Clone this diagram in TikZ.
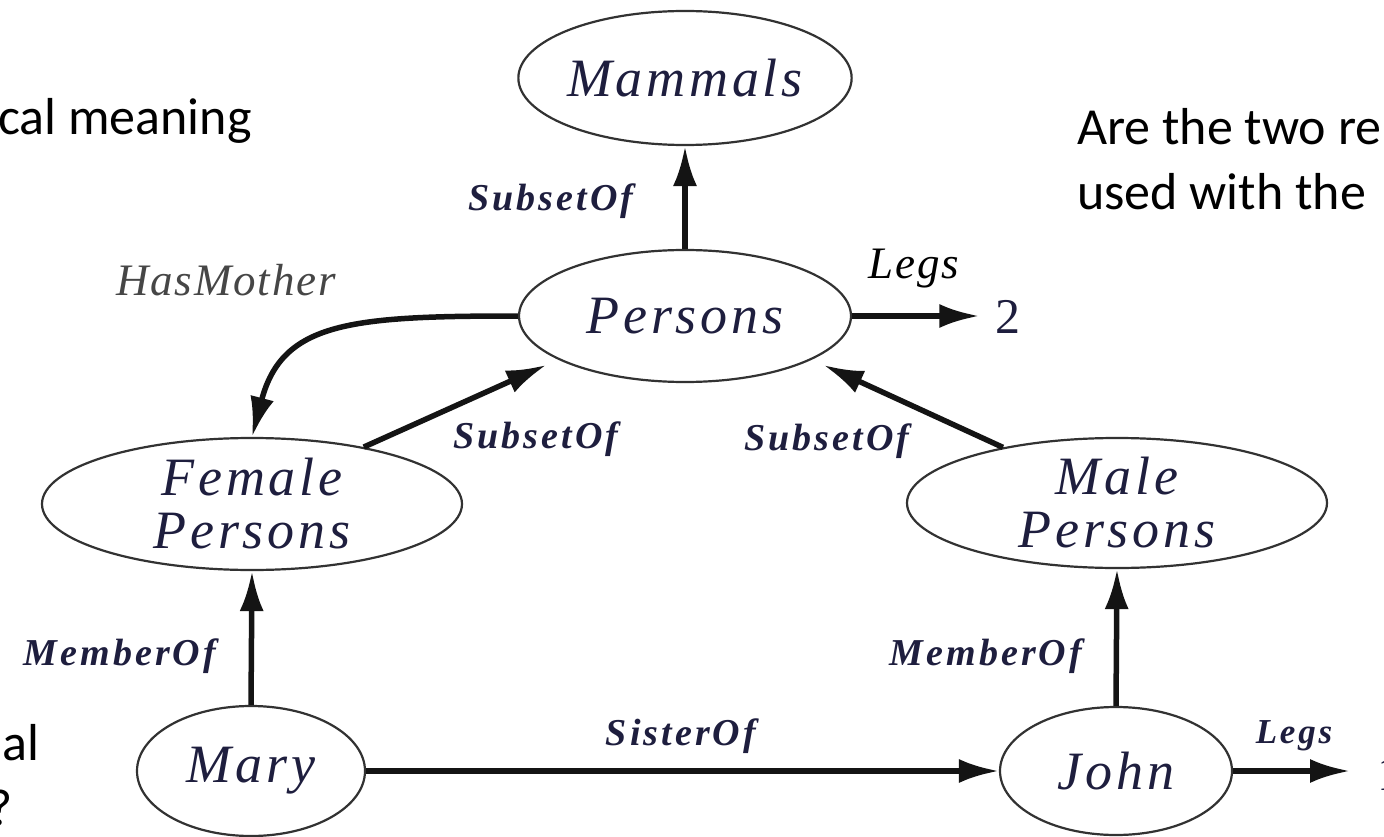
\documentclass[tikz,border=0pt]{standalone}
\usepackage{fontspec}
\setmainfont{Carlito}
\newfontfamily\conceptfont{Liberation Serif}[LetterSpace=7]
\newfontfamily\relfont{Liberation Serif}[LetterSpace=8]
\newfontfamily\notefont{Liberation Serif}[LetterSpace=4]
\usetikzlibrary{shapes.geometric,arrows.meta}
\definecolor{ink}{RGB}{30,30,62}
\definecolor{rim}{RGB}{50,50,50}
\definecolor{hint}{RGB}{70,70,70}

\begin{document}
\begin{tikzpicture}[x=1pt,y=-1pt,
  concept/.style={ellipse, draw=rim, line width=2.2pt, inner sep=0pt, align=center,
    text=ink, font=\conceptfont\itshape\fontsize{54}{53}\selectfont},
  rel/.style={text=ink, inner sep=0pt, anchor=base,
    font=\relfont\bfseries\itshape\fontsize{38}{40}\selectfont},
  note/.style={inner sep=0pt, anchor=base,
    font=\notefont\itshape\fontsize{45}{45}\selectfont},
  val/.style={inner sep=0pt, text=ink, font=\relfont\fontsize{50}{50}\selectfont},
  link/.style={line width=5.5pt, draw=black!92, -{Latex[length=40pt,width=24pt]}},
  slide/.style={inner sep=0pt, font=\fontsize{52}{62}\selectfont},
]
\useasboundingbox (0,0) rectangle (1384,837);
\clip (0,0) rectangle (1384,837);
\fill[white] (0,0) rectangle (1384,837);

% surrounding slide text
\node[slide, anchor=base west] (t1) at (-2,135) {cal meaning};
\node[slide, anchor=base west] (t2) at (1077,145) {Are the two re};
\node[slide, anchor=base west] (t3) at (1077,210) {used with the};
\node[slide, anchor=base east] (t4) at (40,760) {al};
\node[slide, anchor=base east] (t5) at (13,825) {?};

% concepts
\node[concept, minimum width=326pt, minimum height=134pt] (mammals) at (685,78) {Mammals};
\node[concept, minimum width=332pt, minimum height=132pt] (persons) at (685,316) {Persons};
\node[concept, minimum width=420pt, minimum height=132pt] (female) at (252,504) {Female\\Persons};
\node[concept, minimum width=420pt, minimum height=130pt] (male) at (1117,503) {Male\\Persons};
\node[concept, minimum width=228pt, minimum height=130pt] (mary) at (251,771) {Mary};
\node[concept, minimum width=232pt, minimum height=128pt] (john) at (1116,771) {John};

% values
\node[val, anchor=base] (two) at (1008,333) {2};
\node[val, anchor=base west] (one) at (1377,790) {1};

% relations
\draw[link] (persons.north) -- (mammals.south);
\draw[link, shorten >=16pt] (persons.east) -- (persons.east -| two.west);
\draw[link] (persons.west) .. controls (350,316) and (282,322) .. (female.north);
\draw[link, shorten >=13pt] (female.27) -- (persons.199);
\draw[link, shorten >=13pt] (male.154) -- (persons.341);
\draw[link] (mary.north) -- (female.south);
\draw[link] (john.north) -- (male.south);
\draw[link] (mary.east) -- (john.west);
\draw[link, shorten >=27pt] (john.east) -- (john.east -| one.west);

% relation labels
\node[rel] (lsubtop) at (551,211) {SubsetOf};
\node[rel] (lsubl) at (536,448) {SubsetOf};
\node[rel] (lsubr) at (827,450) {SubsetOf};
\node[rel] (lmeml) at (120,665) {MemberOf};
\node[rel] (lmemr) at (986,665) {MemberOf};
\node[rel] (lsis) at (681,745) {SisterOf};
\node[rel, font=\relfont\bfseries\itshape\fontsize{35}{36}\selectfont] (llegsb) at (1294,743) {Legs};
\node[note] (llegst) at (914,278) {Legs};
\node[note, text=hint] (lhas) at (226,295) {HasMother};
\end{tikzpicture}
\end{document}
